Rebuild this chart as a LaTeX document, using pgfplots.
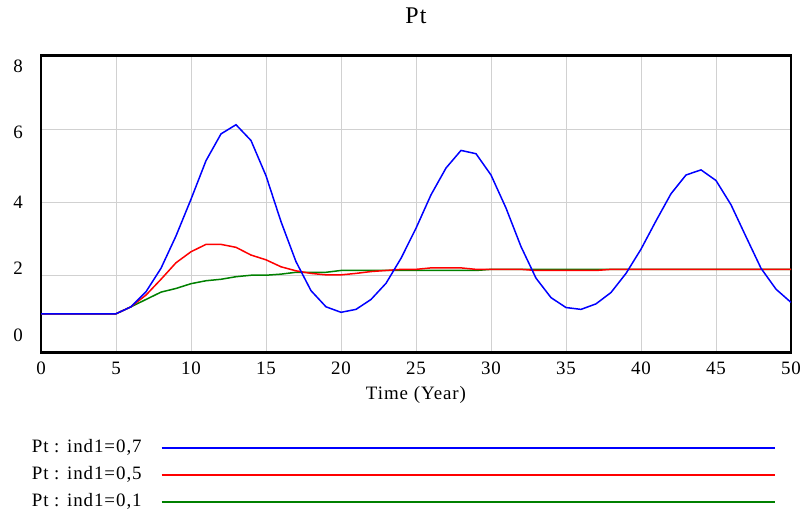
\documentclass[border=0pt]{standalone}
\usepackage{fontspec}
\setmainfont{Liberation Serif}[LetterSpace=5]
\usepackage{pgfplots}
\pgfplotsset{compat=1.18}
\usepackage{pgfplotstable}

\definecolor{simblue}{RGB}{0,0,255}
\definecolor{simred}{RGB}{255,0,0}
\definecolor{simgreen}{RGB}{0,128,0}

% Pt over time, one run per value of ind1
\pgfplotstableread{
t   p
0   0.97
1   0.97
2   0.97
3   0.97
4   0.97
5   0.97
6   1.16
7   1.57
8   2.21
9   3.09
10  4.09
11  5.14
12  5.87
13  6.12
14  5.69
15  4.73
16  3.48
17  2.39
18  1.60
19  1.16
20  1.01
21  1.09
22  1.36
23  1.80
24  2.48
25  3.30
26  4.21
27  4.94
28  5.42
29  5.33
30  4.75
31  3.85
32  2.80
33  1.94
34  1.41
35  1.14
36  1.09
37  1.24
38  1.55
39  2.07
40  2.73
41  3.50
42  4.24
43  4.75
44  4.89
45  4.60
46  3.94
47  3.07
48  2.21
49  1.64
50  1.28
}\runA

\pgfplotstableread{
t   p
0   0.97
1   0.97
2   0.97
3   0.97
4   0.97
5   0.97
6   1.16
7   1.48
8   1.91
9   2.36
10  2.66
11  2.86
12  2.86
13  2.78
14  2.57
15  2.44
16  2.25
17  2.14
18  2.07
19  2.03
20  2.03
21  2.07
22  2.12
23  2.15
24  2.18
25  2.18
26  2.22
27  2.22
28  2.22
29  2.18
30  2.18
31  2.18
32  2.18
33  2.15
34  2.15
35  2.15
36  2.15
37  2.15
38  2.18
39  2.18
40  2.18
41  2.18
42  2.18
43  2.18
44  2.18
45  2.18
46  2.18
47  2.18
48  2.18
49  2.18
50  2.18
}\runB

\pgfplotstableread{
t   p
0   0.97
1   0.97
2   0.97
3   0.97
4   0.97
5   0.97
6   1.16
7   1.36
8   1.56
9   1.66
10  1.79
11  1.87
12  1.91
13  1.98
14  2.02
15  2.02
16  2.05
17  2.10
18  2.10
19  2.10
20  2.15
21  2.15
22  2.15
23  2.15
24  2.15
25  2.15
26  2.15
27  2.15
28  2.15
29  2.15
30  2.18
31  2.18
32  2.18
33  2.18
34  2.18
35  2.18
36  2.18
37  2.18
38  2.18
39  2.18
40  2.18
41  2.18
42  2.18
43  2.18
44  2.18
45  2.18
46  2.18
47  2.18
48  2.18
49  2.18
50  2.18
}\runC

\begin{document}
\begin{tikzpicture}
\useasboundingbox (0bp,0bp) rectangle (801bp,510bp);
\begin{axis}[
  at={(41bp,157.3bp)}, anchor=south west,
  width=750bp, height=297bp, scale only axis,
  xmin=0, xmax=50, ymin=-0.09, ymax=8,
  xtick={0,5,...,50},
  ytick={2,4,6}, yticklabels={,,},
  extra y ticks={0.39,2.22,4.02,5.90,7.70},
  extra y tick labels={0,2,4,6,8},
  extra y tick style={grid=none},
  major tick length=0pt,
  grid=major,
  grid style={line width=1bp, color=black!18},
  axis line style={line width=2.6bp},
  /pgf/number format/assume math mode=true,
  tick label style={font=\fontsize{19}{22}\selectfont},
  xticklabel style={anchor=center, yshift=-16bp},
  yticklabel style={anchor=center, xshift=-23bp},
  title={Pt},
  title style={at={(0.5,1)}, anchor=center, yshift=34bp, font=\fontsize{24}{28}\selectfont},
  xlabel={Time (Year)},
  xlabel style={at={(0.5,0)}, anchor=center, yshift=-42bp, font=\fontsize{19}{22}\selectfont},
  legend plot pos=right,
  legend cell align=left,
  legend image code/.code={\draw[#1] (0bp,0bp) -- (613bp,0bp);},
  legend style={
    draw=none, fill=none,
    at={(-0.0165,-0.282)}, anchor=north west,
    font=\fontsize{19}{22}\selectfont,
    nodes={inner sep=0pt, text height=14bp, text depth=4bp},
    column sep=19bp, row sep=9bp,
  },
]
% legend keys, listed top to bottom
\addlegendimage{simblue, line width=1.8bp}
\addlegendentry{Pt : ind1=0,7}
\addlegendimage{simred, line width=1.8bp}
\addlegendentry{Pt : ind1=0,5}
\addlegendimage{simgreen, line width=1.8bp}
\addlegendentry{Pt : ind1=0,1}
% runs, drawn so that the oscillating one lies on top
\addplot[simgreen, line width=1.5bp, forget plot] table[x=t, y=p] {\runC};
\addplot[simred, line width=1.5bp, forget plot] table[x=t, y=p] {\runB};
\addplot[simblue, line width=1.5bp, forget plot] table[x=t, y=p] {\runA};
\end{axis}
\end{tikzpicture}
\end{document}
